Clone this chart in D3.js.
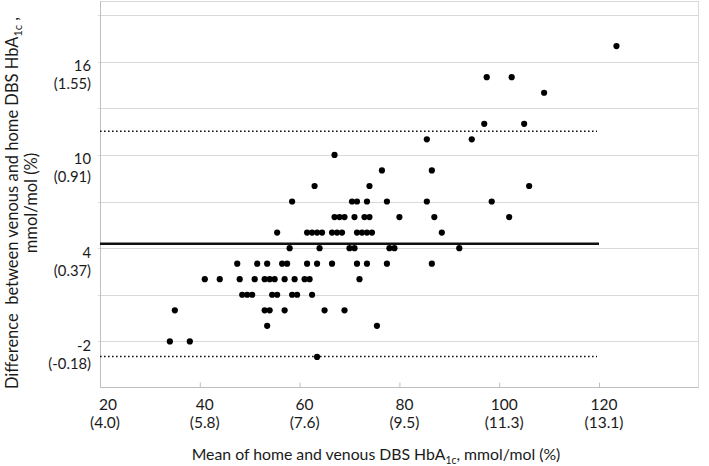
<!DOCTYPE html>
<html>
<head>
<meta charset="utf-8">
<script src="https://cdn.jsdelivr.net/npm/d3@7"></script>
<style>
  html, body { margin: 0; padding: 0; background: #fff; }
  svg { display: block; }
  text { font-family: Lato, "Open Sans", sans-serif; fill: #1a1a1a; }
</style>
</head>
<body>
<div id="chart"></div>
<script>
// ---- data ----
const meanValues = [
  63.5,
  34, 38,
  53.5, 75.5,
  35, 53, 54, 57, 65, 69,
  48.5, 49.5, 50.5, 54.5, 55.5, 58.5, 59.5, 62.5,
  41, 44, 48, 51, 53, 54, 55, 57, 59, 61, 62, 72,
  47.5, 51.5, 53.5, 56.5, 57.5, 61.5, 63.5, 66.5, 71.5, 73.5, 77.5, 86.5,
  58, 64, 70, 71, 78, 79, 92,
  55.5, 61.5, 62.5, 63.5, 64.5, 66.5, 67.5, 68.5, 71.5, 72.5, 73.5, 74.5, 88.5,
  67, 68, 69, 71, 73, 74, 80, 87, 102,
  58.5, 70.5, 71.5, 73.5, 77.5, 85.5, 98.5,
  63, 74, 106,
  76.5, 86.5,
  67,
  85.5, 94.5,
  97, 105,
  109,
  97.5, 102.5,
  123.5
];
const diffValues = [
  -3,
  -2, -2,
  -1, -1,
  0, 0, 0, 0, 0, 0,
  1, 1, 1, 1, 1, 1, 1, 1,
  2, 2, 2, 2, 2, 2, 2, 2, 2, 2, 2, 2,
  3, 3, 3, 3, 3, 3, 3, 3, 3, 3, 3, 3,
  4, 4, 4, 4, 4, 4, 4,
  5, 5, 5, 5, 5, 5, 5, 5, 5, 5, 5, 5, 5,
  6, 6, 6, 6, 6, 6, 6, 6, 6,
  7, 7, 7, 7, 7, 7, 7,
  8, 8, 8,
  9, 9,
  10,
  11, 11,
  12, 12,
  14,
  15, 15,
  17
];
const meanDiff = 4.28;
const upperLoA = 11.52;
const lowerLoA = -2.97;
const lineEndX = 120;

const xTickValues = [20, 40, 60, 80, 100, 120];
const xTickPercent = ["(4.0)", "(5.8)", "(7.6)", "(9.5)", "(11.3)", "(13.1)"];
const yTickValues = [-2, 4, 10, 16];
const yTickPercent = ["(-0.18)", "(0.37)", "(0.91)", "(1.55)"];
const yGridValues = [-2, 1, 4, 7, 10, 13, 16, 19];

// ---- layout ----
const W = 709, H = 466;
const svg = d3.select("#chart").append("svg").attr("width", W).attr("height", H);

const x = d3.scaleLinear().domain([20, 140]).range([100, 698.8]);
const y = d3.scaleLinear().domain([-5, 20]).range([388, -0.5]);

// gridlines
svg.append("g")
  .selectAll("line").data(yGridValues).join("line")
  .attr("x1", x(20) - 2).attr("x2", x(140))
  .attr("y1", d => Math.round(y(d)) + 0.5).attr("y2", d => Math.round(y(d)) + 0.5)
  .attr("stroke", "#d9d9d9").attr("stroke-width", 1);

// top & right border
svg.append("line").attr("x1", x(20)).attr("x2", x(140)).attr("y1", 1.5).attr("y2", 1.5)
  .attr("stroke", "#d9d9d9");
svg.append("line").attr("x1", Math.round(x(140)) - 0.5).attr("x2", Math.round(x(140)) - 0.5)
  .attr("y1", 1).attr("y2", y(-5)).attr("stroke", "#d9d9d9");

// left axis line
svg.append("line").attr("x1", x(20) + 0.5).attr("x2", x(20) + 0.5)
  .attr("y1", 1).attr("y2", y(-5)).attr("stroke", "#bfbfbf");

// bottom axis with inner ticks
const xAxis = d3.axisBottom(x).tickValues(xTickValues).tickSizeInner(-5).tickSizeOuter(0).tickFormat("");
const gx = svg.append("g").attr("transform", `translate(0,${Math.round(y(-5)) - 0.5})`).call(xAxis);
gx.select(".domain").attr("stroke", "#bfbfbf").attr("d", `M${x(20)},0H${x(140)}`);
gx.selectAll(".tick line").attr("stroke", "#bfbfbf");

// x tick labels (two lines)
const xl = svg.append("g").selectAll("g").data(xTickValues).join("g");
xl.append("text")
  .attr("x", (d, i) => x(d) + (i === 0 ? 8 : 5)).attr("y", 410)
  .attr("text-anchor", "middle").attr("font-size", 15.5)
  .text(d => d);
xl.append("text")
  .attr("x", (d, i) => x(d) + 5).attr("y", 428)
  .attr("text-anchor", "middle").attr("font-size", 15.5)
  .text((d, i) => xTickPercent[i]);

// y tick labels (two lines)
const yl = svg.append("g").selectAll("g").data(yTickValues).join("g");
yl.append("text")
  .attr("x", 91).attr("y", d => y(d) + 9.5)
  .attr("text-anchor", "end").attr("font-size", 14.8)
  .text(d => d);
yl.append("text")
  .attr("x", 91).attr("y", d => y(d) + 27.5)
  .attr("text-anchor", "end").attr("font-size", 14.8)
  .text((d, i) => yTickPercent[i]);

// mean and limits of agreement
svg.append("line")
  .attr("x1", x(20)).attr("x2", x(lineEndX))
  .attr("y1", y(meanDiff)).attr("y2", y(meanDiff))
  .attr("stroke", "#111").attr("stroke-width", 2.6);
[upperLoA, lowerLoA].forEach(v => {
  svg.append("line")
    .attr("x1", x(20)).attr("x2", x(lineEndX) - 2)
    .attr("y1", y(v)).attr("y2", y(v))
    .attr("stroke", "#111").attr("stroke-width", 1.6)
    .attr("stroke-dasharray", "1.6,2.4");
});

// points
svg.append("g").selectAll("circle").data(meanValues).join("circle")
  .attr("cx", d => x(d))
  .attr("cy", (d, i) => y(diffValues[i]))
  .attr("r", 3.1)
  .attr("fill", "#000");

// x axis title
const xt = svg.append("text")
  .attr("x", 376).attr("y", 460)
  .attr("text-anchor", "middle").attr("font-size", 15.8);
xt.append("tspan").text("Mean of home and venous DBS HbA");
xt.append("tspan").attr("font-size", 10.5).attr("dy", 4).text("1c");
xt.append("tspan").attr("dy", -4).text(", mmol/mol (%)");

// y axis title (rotated, two lines)
const yt = svg.append("g").attr("transform", "translate(18,203) rotate(-90)");
const yt1 = yt.append("text").attr("x", 0).attr("y", 0)
  .attr("text-anchor", "middle").attr("font-size", 16.5)
  .style("white-space", "pre");
yt1.append("tspan").text("Difference  between venous and home DBS HbA");
yt1.append("tspan").attr("font-size", 11).attr("dy", 4).text("1c");
yt1.append("tspan").attr("dy", -4).text(" ,");
yt.append("text").attr("x", 0).attr("y", 19)
  .attr("text-anchor", "middle").attr("font-size", 16.5)
  .text("mmol/mol (%)");
</script>
</body>
</html>
